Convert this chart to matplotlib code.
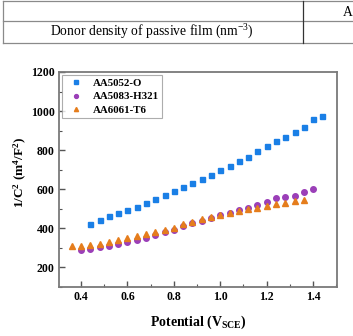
import matplotlib
matplotlib.use("Agg")
import matplotlib.pyplot as plt
from matplotlib.lines import Line2D
from matplotlib.ticker import MultipleLocator

# potential (V_SCE) and 1/C^2 values
x_5052 = [0.44, 0.48, 0.52, 0.56, 0.60, 0.64, 0.68, 0.72, 0.76, 0.80, 0.84, 0.88, 0.92,
          0.96, 1.00, 1.04, 1.08, 1.12, 1.16, 1.20, 1.24, 1.28, 1.32, 1.36, 1.40, 1.44]
y_5052 = [420, 443, 460, 475, 492, 510, 527, 547, 568, 588, 610, 631, 651,
          672, 697, 718, 744, 764, 795, 820, 846, 867, 892, 918, 960, 975]

x_5083 = [0.40, 0.44, 0.48, 0.52, 0.56, 0.60, 0.64, 0.68, 0.72, 0.76, 0.80, 0.84, 0.88,
          0.92, 0.96, 1.00, 1.04, 1.08, 1.12, 1.16, 1.20, 1.24, 1.28, 1.32, 1.36, 1.40]
y_5083 = [287, 292, 301, 309, 320, 328, 338, 350, 366, 378, 392, 409, 424,
          438, 453, 466, 475, 494, 503, 518, 532, 555, 560, 566, 586, 600]

x_6061 = [0.36, 0.40, 0.44, 0.48, 0.52, 0.56, 0.60, 0.64, 0.68, 0.72, 0.76, 0.80, 0.84,
          0.88, 0.92, 0.96, 1.00, 1.04, 1.08, 1.12, 1.16, 1.20, 1.24, 1.28, 1.32, 1.36]
y_6061 = [308, 306, 311, 320, 328, 338, 347, 359, 369, 378, 388, 400, 420,
          432, 446, 456, 468, 478, 488, 497, 505, 515, 522, 530, 537, 545]

labels = ["AA5052-O", "AA5083-H321", "AA6061-T6"]

plt.rcParams['font.family'] = ['Liberation Serif', 'DejaVu Serif']
plt.rcParams['mathtext.fontset'] = 'custom'
plt.rcParams['mathtext.rm'] = 'Liberation Serif'
plt.rcParams['mathtext.it'] = 'Liberation Serif:italic'
plt.rcParams['mathtext.bf'] = 'Liberation Serif:bold'

fig = plt.figure(figsize=(3.53, 3.36), dpi=100)

# cropped table strip on top of the image
tc = '#8a8a8a'
for yy in [1, 21, 43]:
    fig.add_artist(Line2D([3 / 353, 1], [1 - yy / 336, 1 - yy / 336], color=tc, lw=0.9))
fig.add_artist(Line2D([3 / 353, 3 / 353], [1 - 1 / 336, 1 - 43 / 336], color=tc, lw=0.9))
fig.add_artist(Line2D([302.5 / 353, 302.5 / 353], [1 - 1 / 336, 1 - 43 / 336], color='#333333', lw=0.9))
fig.text(152 / 353, 1 - 32 / 336, "Donor density of passive film (nm$^{-3}$)",
         ha='center', va='center', fontsize=9.8)
fig.text(343 / 353, 1 - 12 / 336, "A", ha='left', va='center', fontsize=9.8)

ax = fig.add_axes([59 / 353, 1 - 287 / 336, 278 / 353, 215 / 336])
ax.plot(x_5052, y_5052, 's', color='#1a7fe6', ms=3.6, label=labels[0])
ax.plot(x_5083, y_5083, 'o', color='#9b3fb8', ms=4.0, label=labels[1])
ax.plot(x_6061, y_6061, '^', color='#e57d1c', ms=4.3, label=labels[2])

ax.set_xlim(0.305, 1.503)
ax.set_ylim(98, 1200)
ax.xaxis.set_major_locator(MultipleLocator(0.2))
ax.xaxis.set_minor_locator(MultipleLocator(0.1))
ax.yaxis.set_major_locator(MultipleLocator(200))
ax.yaxis.set_minor_locator(MultipleLocator(100))
ax.tick_params(which='both', direction='in', top=False, right=False, color='#555555')
ax.tick_params(which='major', length=4, width=1, labelsize=8.5, pad=3)
ax.tick_params(which='minor', length=2, width=0.8)
ax.set_xticklabels([f"{v:.1f}" for v in ax.get_xticks()])
for t in ax.get_xticklabels() + ax.get_yticklabels():
    t.set_fontweight('bold')
for s in ax.spines.values():
    s.set_color('#7a7a7a')
    s.set_linewidth(1.3)

ax.set_xlabel("Potential (V$_{\\mathbf{SCE}}$)", fontsize=10, fontweight='bold')
ax.set_ylabel("1/C$^\\mathbf{2}$ (m$^\\mathbf{4}$/F$^\\mathbf{2}$)", fontsize=9.5, fontweight='bold')
ax.xaxis.set_label_coords(0.5, -0.125)
ax.yaxis.set_label_coords(-0.107, 0.535)

leg = ax.legend(loc='upper left', prop={'weight': 'bold', 'size': 7.8}, frameon=True,
                fancybox=False, edgecolor='#999999', handletextpad=0.5,
                borderpad=0.3, labelspacing=0.35, markerscale=0.7,
                borderaxespad=0.3)
leg.get_frame().set_linewidth(0.8)

plt.savefig("out.png", dpi=100)
